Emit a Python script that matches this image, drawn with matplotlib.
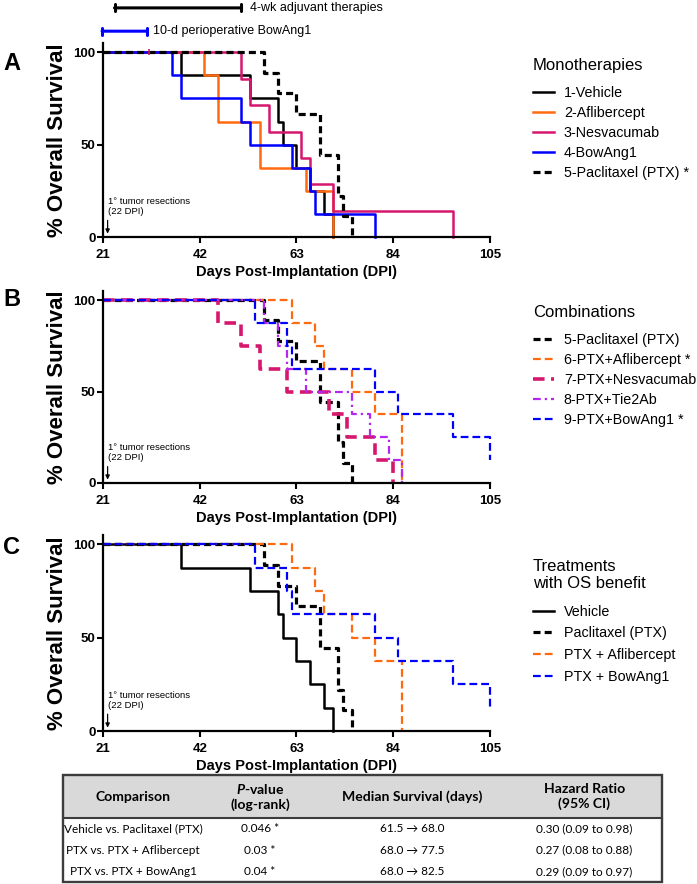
import matplotlib.pyplot as plt
from matplotlib.patches import Rectangle

FAM = ['Liberation Sans', 'DejaVu Sans']
plt.rcParams['font.family'] = list(FAM)
plt.rcParams['mathtext.fontset'] = 'custom'
plt.rcParams['mathtext.it'] = 'Lato:italic:bold'
plt.rcParams['mathtext.rm'] = 'Lato:bold'

# ---- survival curves (day, % surviving) ----
days_ticks = [21, 42, 63, 84, 105]

veh_t = [21, 38, 53, 59, 60, 63, 66, 69, 71]
veh_s = [100, 87.5, 75, 62.5, 50, 37.5, 25, 12.5, 0]

afl_t = [21, 43, 46, 55, 65, 71]
afl_s = [100, 87.5, 62.5, 37.5, 25, 0]

nes_t = [21, 51, 53, 57, 64, 66, 71, 97]
nes_s = [100, 85.7, 71.4, 57.1, 42.9, 28.6, 14.3, 0]
nes_cens_t = [31]
nes_cens_s = [100]

bow_t = [21, 36, 38, 51, 53, 62, 66, 67, 80]
bow_s = [100, 87.5, 75, 62.5, 50, 37.5, 25, 12.5, 0]

ptx_t = [21, 56, 59, 63, 68, 72, 73, 75]
ptx_s = [100, 88.9, 77.8, 66.7, 44.4, 22.2, 11.1, 0]

pafl_t = [21, 62, 67, 69, 75, 80, 86]
pafl_s = [100, 87.5, 75, 62.5, 50, 37.5, 0]

pnes_t = [21, 46, 51, 55, 61, 70, 74, 80, 84]
pnes_s = [100, 87.5, 75, 62.5, 50, 37.5, 25, 12.5, 0]

ptie_t = [21, 56, 59, 61, 65, 75, 79, 83, 86]
ptie_s = [100, 87.5, 75, 62.5, 50, 37.5, 25, 12.5, 0]

pbow_t = [21, 54, 61, 62, 80, 85, 97, 105]
pbow_s = [100, 87.5, 75, 62.5, 50, 37.5, 25, 12.5]

# ---- table ----
tab_header = ['Comparison', '$\\mathit{P}$-value\n(log-rank)', 'Median Survival (days)', 'Hazard Ratio\n(95% CI)']
tab_comp = ['Vehicle vs. Paclitaxel (PTX)', 'PTX vs. PTX + Aflibercept', 'PTX vs. PTX + BowAng1']
tab_p = ['0.046 *', '0.03 *', '0.04 *']
tab_med = ['61.5 \u2192 68.0', '68.0 \u2192 77.5', '68.0 \u2192 82.5']
tab_hr = ['0.30 (0.09 to 0.98)', '0.27 (0.08 to 0.88)', '0.29 (0.09 to 0.97)']

BLACK = '#000000'
ORANGE = '#ff6a10'
CRIMSON = '#d5176e'
BLUE = '#0000ff'
VIOLET = '#b526f0'

ptx_style = dict(color=BLACK, lw=2.3, ls=(0, (2.2, 1.3)))
dash_style = (0, (3.5, 1.8))

W, H = 697, 884
fig = plt.figure(figsize=(W / 100, H / 100), dpi=100)


def px_axes(left, right, top, bottom):
    return fig.add_axes([left / W, 1 - bottom / H, (right - left) / W, (bottom - top) / H])


def style_axis(ax):
    ax.set_xlim(21, 105)
    ax.set_ylim(0, 105)
    ax.set_xticks(days_ticks)
    ax.set_yticks([0, 50, 100])
    for s in ['top', 'right']:
        ax.spines[s].set_visible(False)
    for s in ['left', 'bottom']:
        ax.spines[s].set_linewidth(1.6)
    ax.tick_params(axis='x', direction='out', length=4.3, width=1.5, pad=4.5, labelsize=9.5)
    ax.tick_params(axis='y', direction='out', length=4.3, width=1.5, pad=1, labelsize=9.5)
    for lab in ax.get_xticklabels() + ax.get_yticklabels():
        lab.set_fontweight('bold')
        lab.set_fontfamily(list(FAM))
    ax.set_xlabel('Days Post-Implantation (DPI)', fontsize=10.5, fontweight='bold', labelpad=3,
                  family=list(FAM))
    ax.set_ylabel('% Overall Survival', fontsize=16, fontweight='bold', labelpad=4, family=list(FAM))
    ax.text(22.1, 11.5, '1\u00b0 tumor resections\n(22 DPI)', fontsize=6.8, ha='left', va='bottom',
            linespacing=1.1, family=list(FAM))
    ax.annotate('', xy=(22, 0.3), xytext=(22, 10.5),
                arrowprops=dict(arrowstyle='-|>', color='black', lw=0.9, mutation_scale=6))


def km(ax, t, s, **kw):
    line, = ax.step(t, s, where='post', clip_on=False, **kw)
    return line


def legend(ax, handles, labels, title, top, spacing=0.42):
    leg = ax.legend(handles, labels, title=title, loc='upper left',
                    bbox_to_anchor=(533 / W, 1 - top / H), bbox_transform=fig.transFigure,
                    frameon=False, prop=dict(family=list(FAM), size=10.3),
                    title_fontproperties=dict(family=list(FAM), size=12), handlelength=1.5,
                    handletextpad=0.65, labelspacing=spacing, borderpad=0, borderaxespad=0,
                    alignment='left')
    leg._legend_box.sep = 9.5
    return leg


# ---------------- Panel A ----------------
axA = px_axes(103, 490, 43, 237)
style_axis(axA)
hA = [km(axA, veh_t, veh_s, color=BLACK, lw=1.8),
      km(axA, afl_t, afl_s, color=ORANGE, lw=1.8),
      km(axA, nes_t, nes_s, color=CRIMSON, lw=1.8),
      km(axA, bow_t, bow_s, color=BLUE, lw=1.8),
      km(axA, ptx_t, ptx_s, **ptx_style)]
axA.plot(nes_cens_t, nes_cens_s, ls='none', marker='|', ms=5, mew=1.2, color=CRIMSON, clip_on=False)
legend(axA, hA, ['1-Vehicle', '2-Aflibercept', '3-Nesvacumab', '4-BowAng1', '5-Paclitaxel (PTX) *'],
       'Monotherapies', 58)

# treatment windows above panel A
axA.annotate('', xy=(23.5, 124), xytext=(51, 124), xycoords='data', annotation_clip=False,
             arrowprops=dict(color='black', lw=2.2, arrowstyle='|-|, widthA=0.25, widthB=0.25',
                             shrinkA=0, shrinkB=0))
axA.text(53, 124, '4-wk adjuvant therapies', fontsize=9, va='center', ha='left', clip_on=False,
         family=list(FAM))
axA.annotate('', xy=(20.8, 111.4), xytext=(30.5, 111.4), xycoords='data', annotation_clip=False,
             arrowprops=dict(color=BLUE, lw=2.2, arrowstyle='|-|, widthA=0.25, widthB=0.25',
                             shrinkA=0, shrinkB=0))
axA.text(31.8, 111.4, '10-d perioperative BowAng1', fontsize=9, va='center', ha='left', clip_on=False,
         family=list(FAM))

# ---------------- Panel B ----------------
axB = px_axes(103, 490, 291, 483)
style_axis(axB)
hB = [km(axB, ptx_t, ptx_s, **ptx_style),
      km(axB, pafl_t, pafl_s, color=ORANGE, lw=1.6, ls=dash_style),
      km(axB, pnes_t, pnes_s, color=CRIMSON, lw=2.6, ls=(0, (3.2, 1.8))),
      km(axB, ptie_t, ptie_s, color=VIOLET, lw=1.6, ls=(0, (3.5, 1.8, 1, 1.8))),
      km(axB, pbow_t, pbow_s, color=BLUE, lw=1.6, ls=dash_style)]
legend(axB, hB, ['5-Paclitaxel (PTX)', '6-PTX+Aflibercept *', '7-PTX+Nesvacumab', '8-PTX+Tie2Ab',
                 '9-PTX+BowAng1 *'], 'Combinations', 305)

# ---------------- Panel C ----------------
axC = px_axes(103, 490, 535, 731)
style_axis(axC)
hC = [km(axC, veh_t, veh_s, color=BLACK, lw=1.8),
      km(axC, ptx_t, ptx_s, **ptx_style),
      km(axC, pafl_t, pafl_s, color=ORANGE, lw=1.6, ls=dash_style),
      km(axC, pbow_t, pbow_s, color=BLUE, lw=1.6, ls=dash_style)]
legC = legend(axC, hC, ['Vehicle', 'Paclitaxel (PTX)', 'PTX + Aflibercept', 'PTX + BowAng1'],
              'Treatments\nwith OS benefit', 559, spacing=0.55)
legC.get_title().set_linespacing(1.2)

# panel letters
for letter, y in [('A', 63), ('B', 300), ('C', 547)]:
    fig.text(3 / W, 1 - y / H, letter, fontsize=17, fontweight='bold', va='center', ha='left',
             family=list(FAM))

# ---------------- Table ----------------
axT = px_axes(63, 662, 775, 882)
axT.axis('off')
cells = [list(r) for r in zip(tab_comp, tab_p, tab_med, tab_hr)]
tab = axT.table(cellText=cells, colLabels=tab_header, cellLoc='center', bbox=[0, 0, 1, 1])
tab.auto_set_font_size(False)
col_w = [140, 114, 190, 155]
head_h, row_h = 43, 21.3
for (r, c), cell in tab.get_celld().items():
    cell.set_width(col_w[c])
    cell.set_height(head_h if r == 0 else row_h)
    cell.set_linewidth(0)
    cell.set_edgecolor('none')
    cell.PAD = 0.01
    txt = cell.get_text()
    txt.set_fontfamily(['Lato', 'DejaVu Sans'])
    txt.set_fontsize(8.5)
    txt.set_clip_on(False)
    if r == 0:
        cell.set_facecolor('#d9d9d9')
        txt.set_fontweight('bold')
        txt.set_fontsize(10.1)

edge = '#3c3c3c'
head_frac = 1 - head_h / (head_h + 3 * row_h)
axT.add_patch(Rectangle((0, 0), 1, 1, transform=axT.transAxes, fill=False, lw=1.7, ec=edge,
                        clip_on=False, zorder=5))
axT.plot([0, 1], [head_frac, head_frac], transform=axT.transAxes, color=edge, lw=1.5,
         clip_on=False, zorder=5)

fig.savefig('out.png', dpi=100)
